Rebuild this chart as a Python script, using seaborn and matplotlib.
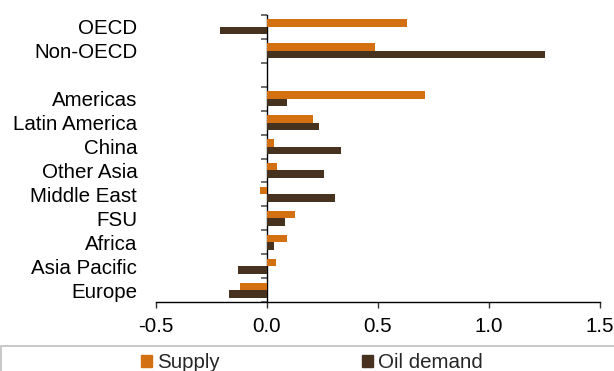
import matplotlib
matplotlib.use("Agg")
import matplotlib.pyplot as plt
from matplotlib.patches import Rectangle
import numpy as np
import pandas as pd
import seaborn as sns

# Regions (a blank slot separates the aggregates from the individual regions)
regions = ["OECD", "Non-OECD", " ", "Americas", "Latin America", "China",
           "Other Asia", "Middle East", "FSU", "Africa", "Asia Pacific", "Europe"]
data_regions = ["OECD", "Non-OECD", "Americas", "Latin America", "China",
                "Other Asia", "Middle East", "FSU", "Africa", "Asia Pacific", "Europe"]
supply = [0.63, 0.485, 0.712, 0.207, 0.033, 0.047, -0.03, 0.128, 0.092, 0.039, -0.121]
oil_demand = [-0.21, 1.252, 0.089, 0.236, 0.335, 0.257, 0.305, 0.079, 0.031, -0.13, -0.172]
series_names = ["Supply", "Oil demand"]
x_ticks = [-0.5, 0.0, 0.5, 1.0, 1.5]

df = pd.DataFrame({
    "region": data_regions * 2,
    "value": supply + oil_demand,
    "series": [series_names[0]] * len(data_regions) + [series_names[1]] * len(data_regions),
})

sns.set_theme(style="white")
plt.rcParams["font.family"] = ["Liberation Sans", "DejaVu Sans"]
plt.rcParams["axes.unicode_minus"] = False

colors = {"Supply": "#D37112", "Oil demand": "#46321F"}

fig = plt.figure(figsize=(6.14, 3.71), dpi=100)
ax = fig.add_axes([156 / 614, 1 - 302 / 371, 444 / 614, 287 / 371])

sns.barplot(data=df, y="region", x="value", hue="series", order=regions,
            hue_order=series_names, palette=colors, orient="h", width=0.63,
            dodge=True, errorbar=None, saturation=1, ax=ax, legend=False,
            linewidth=0)

ax.set_xlim(-0.5, 1.5)
ax.set_ylim(len(regions) - 0.5, -0.5)
ax.set_xticks(x_ticks)
ax.set_xticklabels([f"{t:.1f}" for t in x_ticks])
ax.set_xlabel("")
ax.set_ylabel("")

fs = 14.8
for s in ["top", "right", "left"]:
    ax.spines[s].set_visible(False)
ax.spines["bottom"].set_color("#000000")
ax.spines["bottom"].set_linewidth(1.0)
ax.tick_params(axis="x", direction="out", length=4, width=1, color="#333333",
               labelsize=fs, pad=7, bottom=True)
ax.tick_params(axis="y", length=0, labelsize=fs, pad=13.5)
for lbl in ax.get_yticklabels() + ax.get_xticklabels():
    lbl.set_color("#000000")

# Vertical axis line at zero with ticks at the category boundaries
zero_frac = (0 - x_ticks[0]) / (x_ticks[-1] - x_ticks[0])
sec = ax.secondary_yaxis(zero_frac)
sec.spines["left"].set_color("#000000")
sec.spines["left"].set_linewidth(1.0)
sec.set_yticks(np.arange(-0.5, len(regions), 1.0))
sec.set_yticklabels([])
sec.tick_params(axis="y", direction="out", length=4.5, width=1.2, color="#555555")

# Legend box along the bottom
fig.patches.append(Rectangle((0.5 / 614, -0.05), 1.1, 1 - 346 / 371 + 0.05,
                             transform=fig.transFigure, fill=False,
                             edgecolor="#BFBFBF", linewidth=1.2))
handles = [Rectangle((0, 0), 1, 1, color=colors[n]) for n in series_names]
fig.legend(handles, series_names, loc="center left",
           bbox_to_anchor=(141 / 614, 1 - 362.5 / 371), ncol=2, frameon=False,
           fontsize=fs, handlelength=0.55, handleheight=0.55,
           handletextpad=0.25, columnspacing=6.9, borderpad=0, borderaxespad=0)

fig.savefig("out.png", dpi=100)
